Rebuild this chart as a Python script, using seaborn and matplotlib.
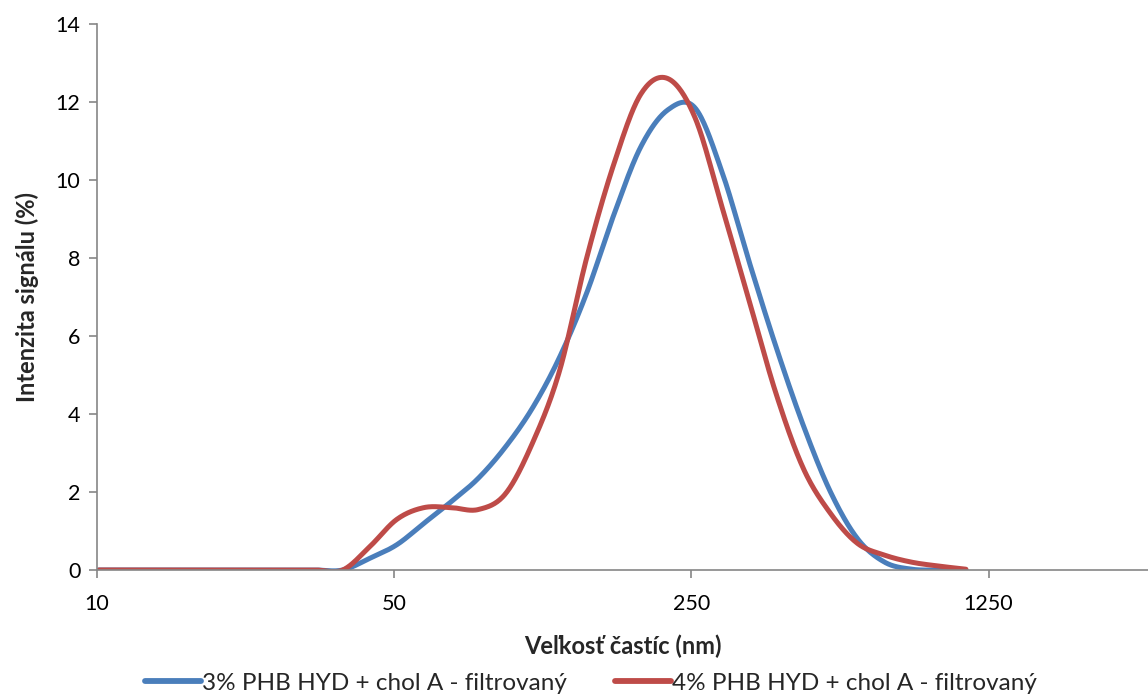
import numpy as np
import pandas as pd
import matplotlib
matplotlib.use("Agg")
import matplotlib.pyplot as plt
from matplotlib.ticker import FixedLocator, NullLocator
from matplotlib.lines import Line2D
import seaborn as sns

# ---- data ----
sizes_nm = [10.10, 11.70, 13.54, 15.69, 18.17, 21.04, 24.36, 28.21, 32.67,
            37.84, 43.82, 50.75, 58.77, 68.06, 78.82, 91.28, 105.7, 122.4,
            141.8, 164.2, 190.1, 220.2, 255.0, 295.3, 342.0, 396.1, 458.7,
            531.2, 615.1, 712.4, 825.0, 955.4, 1106.0]
series_3pct = [0, 0, 0, 0, 0, 0, 0, 0, 0,
               0, 0.30, 0.65, 1.20, 1.75, 2.35, 3.15, 4.15, 5.45,
               7.10, 9.10, 10.85, 11.80, 11.85, 10.20, 7.90, 5.70, 3.70,
               2.00, 0.80, 0.20, 0.02, 0, 0]
series_4pct = [0, 0, 0, 0, 0, 0, 0, 0, 0,
               0, 0.60, 1.30, 1.60, 1.60, 1.55, 1.95, 3.25, 5.10,
               8.00, 10.40, 12.20, 12.60, 11.60, 9.30, 6.90, 4.50, 2.60,
               1.45, 0.68, 0.38, 0.20, 0.10, 0.02]
labels = ["3% PHB HYD + chol A - filtrovaný", "4% PHB HYD + chol A - filtrovaný"]
colors = ["#4A7EBB", "#BE4B48"]
x_ticks = [10, 50, 250, 1250]
y_ticks = [0, 2, 4, 6, 8, 10, 12, 14]


def smooth(xs, ys, n=30):
    """Excel-like smoothed line: Catmull-Rom Bezier in (log x, y) space."""
    u = np.log10(np.asarray(xs, float)) * 3.0
    v = np.asarray(ys, float)
    P = np.column_stack([u, v])
    Pp = np.vstack([P[0], P, P[-1]])
    out = []
    for i in range(len(P) - 1):
        p0, p1, p2, p3 = Pp[i], Pp[i + 1], Pp[i + 2], Pp[i + 3]
        c1 = p1 + (p2 - p0) / 6.0
        c2 = p2 - (p3 - p1) / 6.0
        t = np.linspace(0, 1, n, endpoint=False)[:, None]
        seg = ((1 - t) ** 3) * p1 + 3 * ((1 - t) ** 2) * t * c1 + 3 * (1 - t) * t ** 2 * c2 + t ** 3 * p2
        out.append(seg)
    out.append(P[-1][None, :])
    out = np.vstack(out)
    return 10 ** (out[:, 0] / 3.0), out[:, 1]


frames = []
for lab, ys in zip(labels, [series_3pct, series_4pct]):
    sx, sy = smooth(sizes_nm, ys)
    frames.append(pd.DataFrame({"x": sx, "y": sy, "series": lab}))
df = pd.concat(frames, ignore_index=True)

sns.set_theme(style="white")
plt.rcParams["font.family"] = ["Lato", "DejaVu Sans"]

fig = plt.figure(figsize=(11.48, 6.95), dpi=100)
ax = fig.add_axes([97 / 1148, 1 - 570 / 695, 1 - 97 / 1148, (570 - 24) / 695])

sns.lineplot(data=df, x="x", y="y", hue="series", palette=colors,
             sort=False, estimator=None, linewidth=3.6, ax=ax, legend=False)

ax.set_xscale("log")
ax.set_xlim(10, 2965)
ax.set_ylim(0, 14)
ax.xaxis.set_major_locator(FixedLocator(x_ticks))
ax.xaxis.set_minor_locator(NullLocator())
ax.set_xticklabels([str(t) for t in x_ticks])
ax.set_yticks(y_ticks)
ax.set_yticklabels([str(t) for t in y_ticks])

spine_c = "#868686"
for s in ["top", "right"]:
    ax.spines[s].set_visible(False)
for s in ["left", "bottom"]:
    ax.spines[s].set_color(spine_c)
    ax.spines[s].set_linewidth(1.2)
ax.tick_params(axis="both", which="major", direction="out", length=6, width=1.2,
               color=spine_c, labelsize=15.5, labelcolor="black", pad=6)
ax.tick_params(axis="x", pad=11)
ax.tick_params(axis="both", bottom=True, left=True)

ax.set_xlabel("Veľkosť častíc (nm)", fontsize=17, fontweight="bold", labelpad=15)
ax.set_ylabel("Intenzita signálu (%)", fontsize=17, fontweight="bold", labelpad=12)

handles = [Line2D([0], [0], color=c, linewidth=4.2) for c in colors]
fig.legend(handles, labels, loc="center", bbox_to_anchor=(591 / 1148, 1 - 683 / 695),
           ncol=2, frameon=False, fontsize=17.5, handlelength=2.3, handletextpad=0.05,
           columnspacing=2.0, borderpad=0)

fig.savefig("out.png", dpi=100)
